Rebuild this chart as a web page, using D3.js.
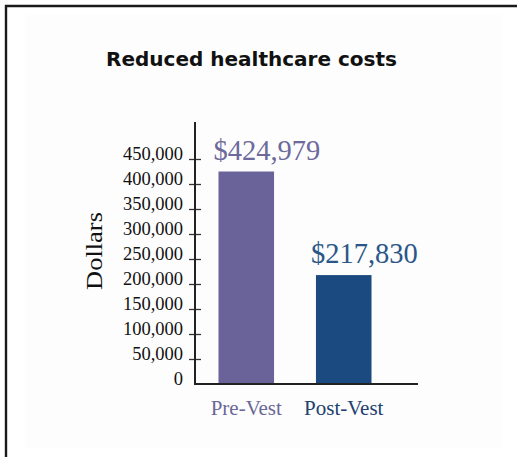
<!DOCTYPE html>
<html>
<head>
<meta charset="utf-8">
<script src="https://cdn.jsdelivr.net/npm/d3@7"></script>
<style>
html, body { margin: 0; padding: 0; background: #ffffff; }
svg { display: block; }
</style>
</head>
<body>
<svg id="chart" width="517" height="457"></svg>
<script>
const title = "Reduced healthcare costs";
const yAxisLabel = "Dollars";
const categories = ["Pre-Vest", "Post-Vest"];
const values = [424979, 217830];
const valueLabels = ["$424,979", "$217,830"];
const tickValues = [0, 50000, 100000, 150000, 200000, 250000, 300000, 350000, 400000, 450000];
const barColors = ["#6a6399", "#1b4a80"];
const labelColors = ["#6d6a9b", "#2a5788"];
const catColors = ["#6b6897", "#22406f"];

const svg = d3.select("#chart");

// outer frame and inner panel
svg.append("rect").attr("x", 25).attr("y", 15).attr("width", 477).attr("height", 433).attr("fill", "#fdfdfd");
svg.append("path").attr("d", "M6,460 L6,6 L520,6").attr("fill", "none").attr("stroke", "#1a1a1a").attr("stroke-width", 2.4);

// title
svg.append("text")
  .attr("x", 251.5).attr("y", 66)
  .attr("text-anchor", "middle")
  .attr("font-family", "'DejaVu Sans', sans-serif")
  .attr("font-weight", "bold")
  .attr("font-size", 19.5)
  .attr("textLength", 291).attr("lengthAdjust", "spacingAndGlyphs")
  .attr("fill", "#111")
  .text(title);

const y = d3.scaleLinear().domain([0, 450000]).range([384, 159]);
const x = d3.scaleBand().domain(categories).range([199, 391]).paddingInner(0.43).paddingOuter(0.2);
const axisX = 195;

// bars
svg.selectAll("rect.bar").data(values).join("rect")
  .attr("class", "bar")
  .attr("x", (d, i) => x(categories[i]))
  .attr("width", x.bandwidth())
  .attr("y", d => y(d))
  .attr("height", d => y(0) - y(d))
  .attr("fill", (d, i) => barColors[i]);

// y axis
const yAxis = d3.axisLeft(y).tickValues(tickValues).tickSize(0).tickPadding(12)
  .tickFormat(d => d === 0 ? "0" : d3.format(",")(d));
const gy = svg.append("g").attr("transform", `translate(${axisX},0)`).call(yAxis);
gy.select(".domain").remove();
gy.selectAll(".tick").filter(d => d !== 0).append("line")
  .attr("x1", -6).attr("x2", 6).attr("stroke", "#333").attr("stroke-width", 1.3);
gy.selectAll(".tick text")
  .attr("font-family", "'Liberation Serif', 'Times New Roman', serif")
  .attr("font-size", 18.5)
  .attr("fill", "#111")
  .attr("dy", "0.05em");

svg.append("line").attr("x1", axisX).attr("x2", axisX).attr("y1", 122).attr("y2", y(0) + 1)
  .attr("stroke", "#222").attr("stroke-width", 2);
svg.append("line").attr("x1", axisX - 1).attr("x2", 418).attr("y1", y(0)).attr("y2", y(0))
  .attr("stroke", "#222").attr("stroke-width", 2);

// x axis labels
const xAxis = d3.axisBottom(x).tickSize(0).tickPadding(16);
const gx = svg.append("g").attr("transform", `translate(0,${y(0)})`).call(xAxis);
gx.select(".domain").remove();
gx.selectAll(".tick text")
  .attr("font-family", "'Liberation Serif', 'Times New Roman', serif")
  .attr("font-size", 21)
  .attr("fill", (d, i) => catColors[i]);

// value labels
svg.selectAll("text.vlabel").data(values).join("text")
  .attr("class", "vlabel")
  .attr("x", (d, i) => x(categories[i]) - 5)
  .attr("y", d => y(d) - 12)
  .attr("font-family", "'Liberation Serif', 'Times New Roman', serif")
  .attr("font-size", 28.5)
  .attr("fill", (d, i) => labelColors[i])
  .text((d, i) => valueLabels[i]);

// y axis title
svg.append("text")
  .attr("transform", "translate(102,251) rotate(-90)")
  .attr("text-anchor", "middle")
  .attr("font-family", "'Liberation Serif', 'Times New Roman', serif")
  .attr("font-size", 24)
  .attr("textLength", 78).attr("lengthAdjust", "spacingAndGlyphs")
  .attr("fill", "#111")
  .text(yAxisLabel);
</script>
</body>
</html>
